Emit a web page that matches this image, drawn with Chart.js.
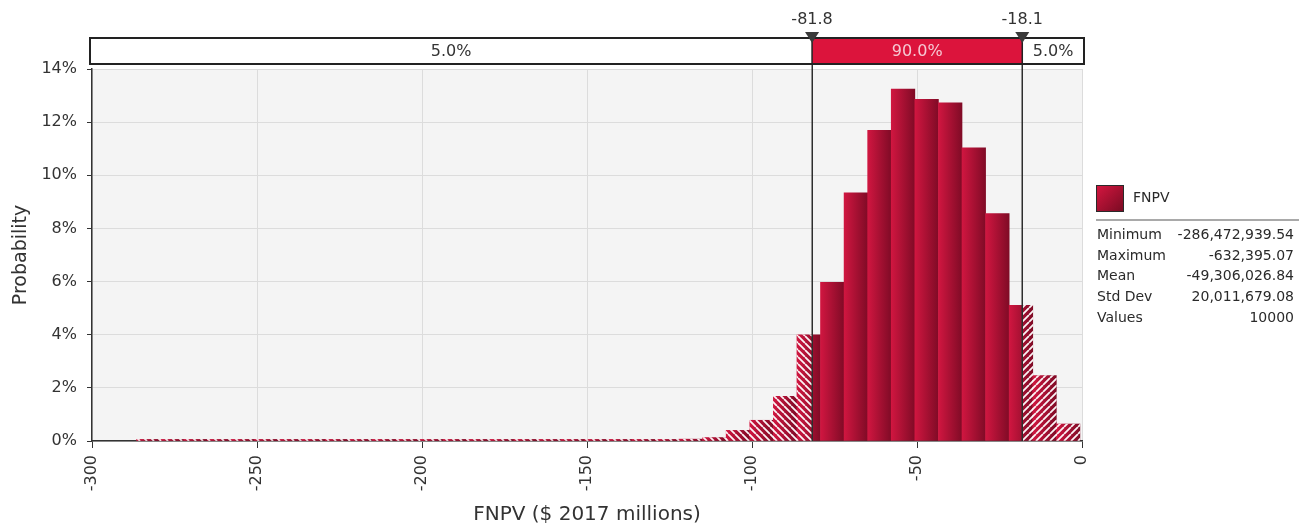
<!DOCTYPE html>
<html>
<head>
<meta charset="utf-8">
<title>FNPV distribution</title>
<script src="https://cdn.jsdelivr.net/npm/chart.js@4.4.1/dist/chart.umd.min.js"></script>
<style>
  html, body { margin: 0; padding: 0; background: #fff; }
  #wrap { position: relative; width: 1309px; height: 529px; overflow: hidden;
          font-family: "DejaVu Sans", sans-serif; color: #333; }
  #chart { position: absolute; left: 0; top: 0; }
  .legend { position: absolute; left: 1096px; top: 184px; width: 203px; font-size: 14px; color: #2a2a2a; }
  .swatch { position: absolute; left: 0; top: 1px; width: 28px; height: 27px; box-sizing: border-box;
            border: 1px solid #2a2a2a; background: linear-gradient(135deg, #d3163f, #7a0b23); }
  .name { position: absolute; left: 37px; top: 5px; line-height: 17px; }
  .rule { position: absolute; left: 0; top: 35px; width: 203px; border-top: 2px solid #a9a9a9; }
  .row { position: absolute; left: 1px; width: 197px; height: 20px; line-height: 20px; white-space: nowrap; }
  .row .v { position: absolute; right: 0; top: 0; }
</style>
</head>
<body>
<div id="wrap">
  <canvas id="chart" width="1309" height="529"></canvas>
  <div class="legend" id="legend">
    <div class="swatch"></div>
    <div class="name" id="seriesName"></div>
    <div class="rule"></div>
  </div>
</div>
<script>
// Simulated FNPV outcomes, $ 2017 millions: 40 equal-width bins from the minimum to the maximum
const seriesName = 'FNPV';
const binLow = -286.472939;
const binHigh = -0.632395;
const binProbability = [
  0.06, 0.06, 0.06, 0.06, 0.06, 0.06, 0.06, 0.06, 0.06, 0.06,
  0.06, 0.06, 0.06, 0.06, 0.06, 0.06, 0.06, 0.06, 0.06, 0.06,
  0.06, 0.06, 0.06, 0.07, 0.13, 0.40, 0.78, 1.68, 4.00, 5.97,
  9.34, 11.69, 13.24, 12.86, 12.73, 11.03, 8.56, 5.11, 2.46, 0.64
];

// Axis ticks
const xTickValues = [-300, -250, -200, -150, -100, -50, 0];
const yTickValues = [0, 2, 4, 6, 8, 10, 12, 14];

// 5th / 95th percentile delimiters and the share of outcomes in each region
const cutoffValues = [-81.8, -18.1];
const cutoffLabels = ['-81.8', '-18.1'];
const regionShares = ['5.0%', '90.0%', '5.0%'];

// Summary statistics
const statLabels = ['Minimum', 'Maximum', 'Mean', 'Std Dev', 'Values'];
const statValues = ['-286,472,939.54', '-632,395.07', '-49,306,026.84', '20,011,679.08', '10000'];

const binWidth = (binHigh - binLow) / binProbability.length;
const binCenters = binProbability.map((_, i) => binLow + (i + 0.5) * binWidth);
const histogramPoints = binProbability.map((p, i) => ({ x: binCenters[i], y: p }));

const FONT = '"DejaVu Sans", sans-serif';
const TEXT = '#333';

// Legend / statistics panel
document.getElementById('seriesName').textContent = seriesName;
const legend = document.getElementById('legend');
statLabels.forEach((label, i) => {
  const row = document.createElement('div');
  row.className = 'row';
  row.style.top = (40 + i * 20.7) + 'px';
  const l = document.createElement('span');
  l.textContent = label;
  const v = document.createElement('span');
  v.className = 'v';
  v.textContent = statValues[i];
  row.appendChild(l);
  row.appendChild(v);
  legend.appendChild(row);
});

// Each bar shades from bright crimson on its left edge to dark wine on its right edge
function barGradient(ctx) {
  const chart = ctx.chart;
  const xs = chart.scales && chart.scales.x;
  if (!xs || ctx.type !== 'data') return '#a80f2e';
  const c = binCenters[ctx.dataIndex];
  const x0 = xs.getPixelForValue(c - binWidth / 2);
  const x1 = xs.getPixelForValue(c + binWidth / 2);
  if (!isFinite(x0) || !isFinite(x1)) return '#a80f2e';
  const g = chart.ctx.createLinearGradient(x0, 0, x1, 0);
  g.addColorStop(0, '#d01640');
  g.addColorStop(1, '#800b26');
  return g;
}

// White diagonal hatching used for the two 5% tails
function hatchPattern(direction) {
  const s = 7;
  const c = document.createElement('canvas');
  c.width = s; c.height = s;
  const g = c.getContext('2d');
  g.strokeStyle = 'rgba(255,255,255,0.95)';
  g.lineWidth = 1.8;
  g.beginPath();
  for (let k = -1; k <= 1; k++) {
    if (direction === 'down') { g.moveTo(k * s, 0); g.lineTo(k * s + s, s); }
    else { g.moveTo(k * s, s); g.lineTo(k * s + s, 0); }
  }
  g.stroke();
  return g.createPattern(c, 'repeat');
}

const barCommon = {
  data: histogramPoints,
  grouped: false,
  barPercentage: 1,
  categoryPercentage: 1,
  borderWidth: 0
};

// Fills the plot rectangle with a light grey before grid lines are drawn
const plotBackground = {
  id: 'plotBackground',
  beforeDraw(chart) {
    const { left, top, right, bottom } = chart.chartArea;
    const ctx = chart.ctx;
    ctx.save();
    ctx.fillStyle = '#f4f4f4';
    ctx.fillRect(left, top, right - left, bottom - top);
    ctx.restore();
  }
};

// Restricts each hatch overlay to its own tail region
const tailClip = {
  id: 'tailClip',
  beforeDatasetDraw(chart, args) {
    const side = chart.data.datasets[args.index].tailSide;
    if (!side) return;
    const { left, right, top, bottom } = chart.chartArea;
    const xs = chart.scales.x;
    const ctx = chart.ctx;
    ctx.save();
    ctx.beginPath();
    if (side === 'low') {
      ctx.rect(left, top, xs.getPixelForValue(cutoffValues[0]) - left, bottom - top);
    } else {
      const x = xs.getPixelForValue(cutoffValues[1]);
      ctx.rect(x, top, right - x, bottom - top);
    }
    ctx.clip();
  },
  afterDatasetDraw(chart, args) {
    if (chart.data.datasets[args.index].tailSide) chart.ctx.restore();
  }
};

// Percentile delimiters and the region bar above the plot
const percentileBar = {
  id: 'percentileBar',
  afterDatasetsDraw(chart) {
    const { top, bottom } = chart.chartArea;
    const xs = chart.scales.x;
    const ctx = chart.ctx;
    ctx.save();
    ctx.strokeStyle = '#2e2e2e';
    ctx.lineWidth = 1.5;
    cutoffValues.forEach(v => {
      const x = Math.round(xs.getPixelForValue(v)) + 0.25;
      ctx.beginPath();
      ctx.moveTo(x, top - 6);
      ctx.lineTo(x, bottom);
      ctx.stroke();
    });
    ctx.restore();
  },
  afterDraw(chart) {
    const { left, right, top } = chart.chartArea;
    const xs = chart.scales.x;
    const ctx = chart.ctx;
    const barTop = top - 31, barH = 26;
    const L = left - 2, R = right + 2;
    const xa = xs.getPixelForValue(cutoffValues[0]);
    const xb = xs.getPixelForValue(cutoffValues[1]);
    ctx.save();
    ctx.fillStyle = '#ffffff';
    ctx.fillRect(L, barTop, R - L, barH);
    ctx.fillStyle = '#dc143c';
    ctx.fillRect(xa, barTop, xb - xa, barH);
    ctx.strokeStyle = '#222';
    ctx.lineWidth = 2;
    ctx.strokeRect(L, barTop, R - L, barH);
    ctx.beginPath();
    ctx.lineWidth = 1.5;
    [xa, xb].forEach(x => { ctx.moveTo(x, barTop); ctx.lineTo(x, barTop + barH); });
    ctx.stroke();

    ctx.font = '16px ' + FONT;
    ctx.textAlign = 'center';
    ctx.textBaseline = 'middle';
    const midY = barTop + barH / 2 + 1;
    ctx.fillStyle = TEXT;
    ctx.fillText(regionShares[0], (L + xa) / 2, midY);
    ctx.fillStyle = '#f6c8d3';
    ctx.fillText(regionShares[1], (xa + xb) / 2, midY);
    ctx.fillStyle = TEXT;
    ctx.fillText(regionShares[2], (xb + R) / 2, midY);

    [xa, xb].forEach((x, i) => {
      ctx.fillStyle = '#3a3a3a';
      ctx.beginPath();
      ctx.moveTo(x - 7, barTop - 6);
      ctx.lineTo(x + 7, barTop - 6);
      ctx.lineTo(x, barTop + 5);
      ctx.closePath();
      ctx.fill();
      ctx.fillStyle = TEXT;
      ctx.fillText(cutoffLabels[i], x, barTop - 18);
    });
    ctx.restore();
  }
};

new Chart(document.getElementById('chart'), {
  type: 'bar',
  data: {
    datasets: [
      // higher order is painted first, so the hatch overlays sit on top of the gradient bars
      Object.assign({ label: seriesName, backgroundColor: barGradient, order: 2 }, barCommon),
      Object.assign({ label: 'low tail', backgroundColor: hatchPattern('down'), tailSide: 'low', order: 1 }, barCommon),
      Object.assign({ label: 'high tail', backgroundColor: hatchPattern('up'), tailSide: 'high', order: 1 }, barCommon)
    ]
  },
  options: {
    responsive: false,
    animation: false,
    devicePixelRatio: 1,
    layout: { padding: { top: 69, right: 227, bottom: 0, left: 0 } },
    plugins: { legend: { display: false }, tooltip: { enabled: false } },
    scales: {
      x: {
        type: 'linear',
        min: -300,
        max: 0,
        offset: false,
        afterBuildTicks: s => { s.ticks = xTickValues.map(v => ({ value: v })); },
        afterFit: s => { s.height = 88; },
        ticks: {
          minRotation: 90, maxRotation: 90,
          color: TEXT, font: { family: FONT, size: 16 }, padding: 7
        },
        grid: { offset: false, color: '#dcdcdc', tickColor: '#333', tickLength: 7, lineWidth: 1 },
        border: { color: '#333', width: 1.5 },
        title: {
          display: true, text: 'FNPV ($ 2017 millions)', color: TEXT,
          font: { family: FONT, size: 20 }, padding: { top: 0, bottom: 2 }
        }
      },
      y: {
        min: 0,
        max: 14,
        afterBuildTicks: s => { s.ticks = yTickValues.map(v => ({ value: v })); },
        afterFit: s => { s.width = 92; },
        ticks: {
          color: TEXT, font: { family: FONT, size: 16 }, padding: 10,
          callback: v => v + '%'
        },
        grid: { color: '#dcdcdc', tickColor: '#333', tickLength: 5, lineWidth: 1 },
        border: { color: '#333', width: 1.5 },
        title: {
          display: true, text: 'Probability', color: TEXT,
          font: { family: FONT, size: 19 }, padding: { top: 10, bottom: 0 }
        }
      }
    }
  },
  plugins: [plotBackground, tailClip, percentileBar]
});
</script>
</body>
</html>
